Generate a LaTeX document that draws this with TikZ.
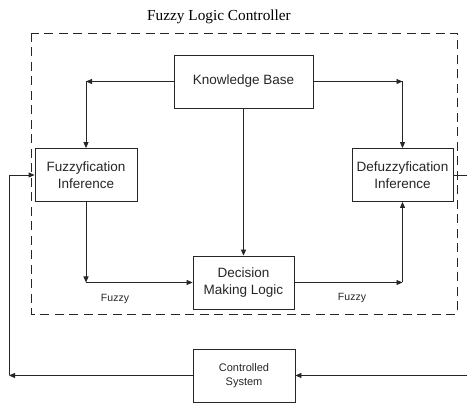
\documentclass[tikz,border=0pt]{standalone}
\usepackage{fontspec}
\setmainfont{Liberation Serif}
\newfontfamily\blockfont{Liberation Sans}
\usetikzlibrary{arrows.meta}
\tikzset{
  block/.style={draw=black!85, line width=0.8pt, minimum width=101pt, minimum height=53pt,
    inner sep=2pt, align=center, text=black!85, font=\blockfont\fontsize{13.5}{17}\selectfont},
  wire/.style={draw=black!85, line width=0.8pt},
  arrow/.style={wire, -{Triangle[length=6pt,width=5pt]}},
  frame/.style={draw=black!85, line width=0.9pt, dash pattern=on 9pt off 5.5pt}
}
\begin{document}
\begin{tikzpicture}[x=1pt,y=-1pt]
\useasboundingbox (0,0) rectangle (467,403);
% Drawing the controller frame
\draw[frame] (31,33) rectangle (457,314);
\node (title) at (219,17) {\fontsize{15.3}{18}\selectfont Fuzzy Logic Controller};
% Drawing blocks
\node[block, minimum width=139pt] (kb) at (243.5,81.5) {Knowledge Base};
\node[block, minimum width=102pt] (fuz) at (86,175) {Fuzzyfication\\Inference};
\node[block] (defuz) at (402.5,175) {Defuzzyfication\\Inference};
\node[block] (dml) at (243.5,282.5) {Decision\\Making Logic};
\node[block, minimum width=102pt, font=\blockfont\fontsize{11}{14}\selectfont] (plant) at (244,375.5) {Controlled\\System};
% Corner points of the connectors
\coordinate (kbl) at (fuz.north |- kb.west);
\coordinate (kbr) at (defuz.north |- kb.east);
\coordinate (fzc) at (fuz.south |- dml.west);
\coordinate (dfc) at (defuz.south |- dml.east);
\coordinate (fbl) at (9,375.5);
\coordinate (fbt) at (9,175);
\coordinate (outr) at (467,175);
\coordinate (inr) at (467,375.5);
% Drawing connectors
\draw[arrow] (kb.west) -- (kbl);
\draw[arrow] (kbl) -- (fuz.north);
\draw[arrow] (kb.east) -- (kbr);
\draw[arrow] (kbr) -- (defuz.north);
\draw[arrow, line width=1.4pt] (kb.south) -- (dml.north);
\draw[arrow] (fuz.south) -- (fzc);
\draw[arrow] (fzc) -- (dml.west);
\draw[arrow] (dml.east) -- (dfc);
\draw[arrow] (dfc) -- (defuz.south);
% Feedback loop
\draw[arrow] (plant.west) -- (fbl);
\draw[arrow] (fbl) -- (fbt) -- (fuz.west);
\draw[wire] (defuz.east) -- (outr);
\draw[arrow] (inr) -- (plant.east);
% Labels
\node[text=black!85, font=\blockfont\fontsize{10.5}{12}\selectfont] (fzl) at (115,299) {Fuzzy};
\node[text=black!85, font=\blockfont\fontsize{10.5}{12}\selectfont] (fzr) at (352,298) {Fuzzy};
\end{tikzpicture}
\end{document}
